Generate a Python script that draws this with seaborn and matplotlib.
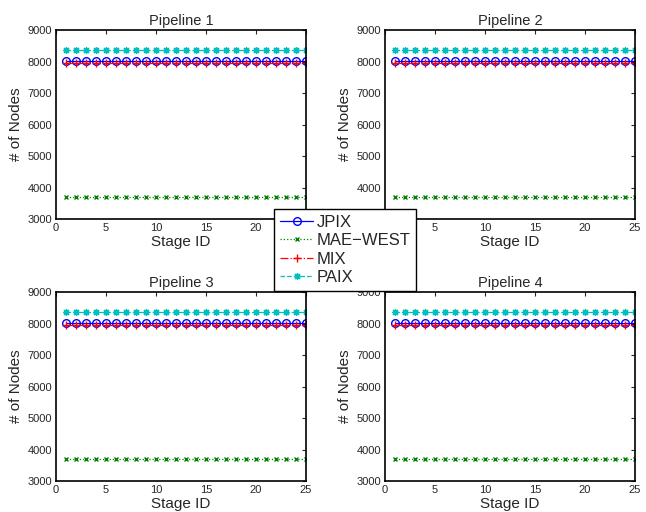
import matplotlib
matplotlib.use("Agg")
import matplotlib.pyplot as plt
import seaborn as sns

stages = list(range(1, 26))
pipelines = ["Pipeline 1", "Pipeline 2", "Pipeline 3", "Pipeline 4"]
series_names = ["JPIX", "MAE\u2212WEST", "MIX", "PAIX"]

jpix = [8020] * 25
mae_west = [3700] * 25
mix = [7960] * 25
paix = [8360] * 25

x_ticks = [0, 5, 10, 15, 20, 25]
y_ticks = [3000, 4000, 5000, 6000, 7000, 8000, 9000]

sns.set_style("white")
plt.rcParams["font.family"] = ["Liberation Sans", "DejaVu Sans"]

blue = (0, 0, 1)
green = (0, 0.5, 0)
red = (1, 0, 0)
cyan = (0, 0.75, 0.75)
styles = [
    dict(color=blue, marker="o", linestyle="-", markerfacecolor="none",
         markeredgecolor=blue, markersize=5.5, markeredgewidth=1.0),
    dict(color=green, marker="x", linestyle=":", markeredgecolor=green,
         markersize=3.5, markeredgewidth=1.0),
    dict(color=red, marker="+", linestyle="-.", markeredgecolor=red,
         markersize=6, markeredgewidth=1.0),
    dict(color=cyan, marker=(8, 2, 0), linestyle="--", markeredgecolor=cyan,
         markerfacecolor=cyan, markersize=5, markeredgewidth=0.9),
]
values = [jpix, mae_west, mix, paix]

fig = plt.figure(figsize=(6.46, 5.12), dpi=100)
positions = [
    [0.0867, 0.572, 0.387, 0.369],
    [0.596, 0.572, 0.387, 0.369],
    [0.0867, 0.0605, 0.387, 0.369],
    [0.596, 0.0605, 0.387, 0.369],
]

handles = []
for i, name in enumerate(pipelines):
    ax = fig.add_axes(positions[i])
    for j, vals in enumerate(values):
        sns.lineplot(x=stages, y=vals, ax=ax, lw=0.9, label=series_names[j], **styles[j])
    ax.set_xlim(0, 25)
    ax.set_ylim(3000, 9000)
    ax.set_xticks(x_ticks)
    ax.set_yticks(y_ticks)
    ax.tick_params(direction="in", top=True, right=True, length=3, width=0.8,
                   labelsize=8, pad=3)
    for sp in ax.spines.values():
        sp.set_linewidth(1.2)
        sp.set_color("black")
    ax.set_title(name, fontsize=10.5, pad=4)
    ax.set_xlabel("Stage ID", fontsize=11, labelpad=1)
    ax.set_ylabel("# of Nodes", fontsize=11, labelpad=3)
    if i == 0:
        handles, labels = ax.get_legend_handles_labels()
    ax.get_legend().remove()

leg = fig.legend(handles, labels, loc="upper left",
                 bbox_to_anchor=(274 / 646, 1 - 209 / 512),
                 fontsize=12, frameon=True, fancybox=False,
                 handlelength=2.0, borderpad=0.35, labelspacing=0.2,
                 handletextpad=0.2, borderaxespad=0)
leg.get_frame().set_edgecolor("black")
leg.get_frame().set_linewidth(1.0)
leg.get_frame().set_alpha(1)

fig.savefig("out.png", dpi=100)
